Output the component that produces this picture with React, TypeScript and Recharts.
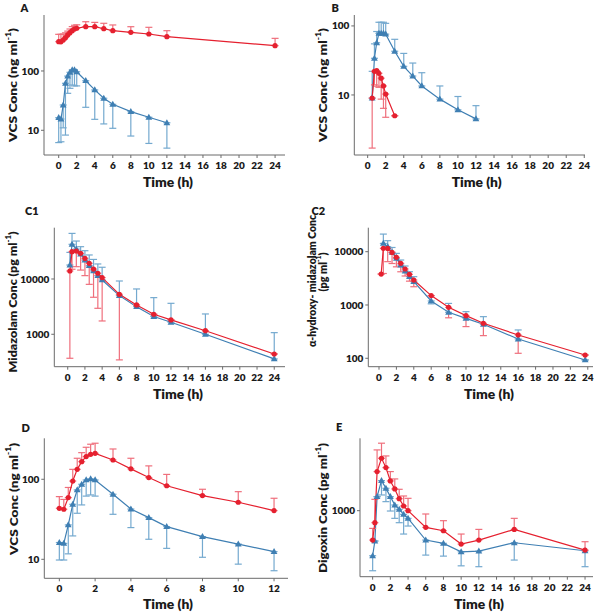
import React from "react";
import { LineChart, Line, XAxis, YAxis, ErrorBar } from "recharts";

const RED = "#e5202f";
const RED_BAR = "#ef6f7c";
const BLUE = "#3f7fb3";
const BLUE_BAR = "#74a9cf";
const AXIS = "#6b6b6b";
const FONT = "Lato, 'Open Sans', sans-serif";

// Panel A
const aRedT = [0, 0.25, 0.5, 0.75, 1, 1.25, 1.5, 1.75, 2, 3, 4, 5, 6, 8, 10, 12, 24];
const aRedV = [312, 310, 333, 365, 405, 443, 478, 510, 525, 558, 558, 516, 478, 449, 420, 379, 267];
const aRedHi = [415, 415, 420, 440, 470, 510, 560, 590, 600, 677, 660, 637, 597, 558, 545, 478, 355];
const aBlueT = [0, 0.25, 0.5, 0.75, 1, 1.25, 1.5, 1.75, 2, 3, 4, 5, 6, 8, 10, 12];
const aBlueV = [16.3, 15.5, 26.7, 62, 82, 95, 104, 104, 97, 68.5, 47.9, 34.7, 27.4, 20.6, 16.6, 13.4];
const aBlueLo = [6.2, 6.4, 11, 8.3, 42, 51, 58, 56, 56, 24.4, 15.3, 12.8, 10.8, 8.0, 6.0, 5.0];

// Panel B
const bBlueT = [0.5, 0.75, 1, 1.25, 1.5, 1.75, 2, 3, 4, 5, 6, 8, 10, 12];
const bBlueV = [9.0, 34, 57, 78, 78, 78, 76, 43, 26, 18.8, 13.5, 8.7, 6.1, 4.5];
const bBlueHi = [22, 55, 83, 113, 113, 113, 109, 64, 40, 29, 21, 13.5, 9.5, 7.0];
const bRedT = [0.5, 0.75, 1, 1.25, 1.5, 1.75, 2, 3];
const bRedV = [9.0, 22, 22.5, 20.6, 17.5, 13.5, 10.3, 5.0];
const bRedLo = [1.7, 14, 13.4, 12.9, 8.7, 6.4, 4.75, 5.0];

// Panel C1 (midazolam)
const c1T = [0.25, 0.5, 1, 1.5, 2, 2.5, 3, 3.5, 4, 6, 8, 10, 12, 16, 24];
const c1BlueV = [17900, 42400, 34800, 28300, 22000, 17400, 14000, 11500, 9600, 5000, 3160, 2090, 1650, 1000, 358];
const c1BlueHi = [30300, 66800, 48600, 38400, 32500, 27200, 22600, 18700, 16300, 9200, 6600, 4600, 3630, 2330, 1070];
const c1RedV = [13950, 31200, 32100, 29100, 23600, 19200, 15100, 12700, 10600, 5280, 3390, 2300, 1820, 1160, 440];
const c1RedLo = [368, 15000, 16700, 14500, 11500, 8000, 4670, 2950, 1740, 344, 3390, 2300, 1820, 1160, 440];

// Panel C2 (alpha-hydroxy-midazolam)
const c2BlueT = [0.5, 1, 1.5, 2, 2.5, 3, 3.5, 4, 6, 8, 10, 12, 16, 23.7];
const c2BlueV = [14300, 12400, 9720, 7500, 5620, 4340, 3400, 2740, 1190, 729, 562, 434, 230, 93];
const c2BlueHi = [21400, 16100, 12000, 9300, 6980, 5390, 4210, 3400, 1190, 1070, 750, 604, 340, 93];
const c2BlueLo = [14300, 12400, 9720, 7500, 5620, 4340, 3400, 2740, 1050, 729, 562, 434, 230, 93];
const c2RedT = [0.25, 0.5, 1, 1.5, 2, 2.5, 3, 3.5, 4, 6, 8, 10, 12, 16, 23.7];
const c2RedV = [3810, 11550, 11500, 9700, 7830, 6040, 4730, 3760, 2940, 1500, 905, 631, 453, 274, 115];
const c2RedLo = [3810, 3900, 6500, 6000, 5200, 4200, 3500, 2800, 2200, 1500, 575, 393, 266, 124, 115];

// Panel D
const dT = [0, 0.25, 0.5, 0.75, 1, 1.25, 1.5, 1.75, 2, 3, 4, 5, 6, 8, 10, 12];
const dRedV = [43.4, 42.2, 59, 95, 133, 166, 192, 205, 211, 174, 135, 105, 83, 62.5, 51.6, 40.6];
const dRedHi = [60.7, 56, 79, 133, 183, 215, 251, 274, 282, 239, 183, 147, 115, 75, 70, 57.9];
const dBlueV = [16.2, 15.8, 26.9, 48.7, 73.6, 86.6, 98, 101, 98, 65, 42.5, 33.2, 25.6, 19.2, 15.5, 12.5];
const dBlueLo = [9.8, 9.8, 11.7, 19.6, 37.6, 47.8, 61.6, 63.7, 61.6, 36.5, 24.9, 17.8, 13.7, 10.6, 8.7, 7.2];

// Panel E (digoxin)
const eT = [0, 0.25, 0.5, 1, 1.5, 2, 2.5, 3, 3.5, 4, 6, 8, 10, 12, 16, 24];
const eRedV = [430, 708, 3073, 4510, 3447, 2350, 1866, 1413, 1144, 1000, 619, 562, 383, 430, 584, 322];
const eRedHi = [601, 1385, 5730, 6950, 4820, 3073, 2490, 1848, 1525, 1426, 909, 750, 511, 584, 802, 410];
const eBlueV = [274, 418, 1496, 2371, 1902, 1496, 1177, 1039, 900, 802, 430, 391, 307, 313, 398, 316];
const eBlueLo = [178, 418, 1496, 1570, 1296, 990, 802, 708, 511, 643, 279, 271, 205, 200, 242, 200];

const hours24 = [0, 2, 4, 6, 8, 10, 12, 14, 16, 18, 20, 22, 24];
const hours12 = [0, 2, 4, 6, 8, 10, 12];

type Pt = { t: number; v: number; e: [number, number] };

function build(t: number[], v: number[], lo?: number[], hi?: number[]): Pt[] {
  return t.map((x, i) => ({
    t: x,
    v: v[i],
    e: [lo ? v[i] - lo[i] : 0, hi ? hi[i] - v[i] : 0],
  }));
}

const redDot = (p: any) => (
  <circle key={`r${p.index}`} cx={p.cx} cy={p.cy} r={2.6} fill={RED} />
);
const blueDot = (p: any) => (
  <path
    key={`b${p.index}`}
    d={`M${p.cx},${p.cy - 3.6}L${p.cx + 3.4},${p.cy + 2.4}L${p.cx - 3.4},${p.cy + 2.4}Z`}
    fill={BLUE}
  />
);

interface SeriesCfg {
  data: Pt[];
  color: string;
  bar: string;
  dot: (p: any) => React.ReactElement;
  name: string;
}

interface PanelCfg {
  left: number;
  top: number;
  width: number;
  height: number;
  x0: number;
  x1: number;
  y0: number;
  y1: number;
  xDomain: [number, number];
  xTicks: number[];
  yDomain: [number, number];
  yTicks: number[];
  series: SeriesCfg[];
}

const tickStyle = { fontSize: 10, fontWeight: 800, fill: "#1a1a1a", fontFamily: FONT };

function Panel(c: PanelCfg) {
  return (
    <div style={{ position: "absolute", left: c.left, top: c.top }}>
      <LineChart
        width={c.width}
        height={c.height}
        margin={{ top: c.y0 - c.top, right: c.left + c.width - c.x1, left: 0, bottom: 0 }}
      >
        <XAxis
          type="number"
          dataKey="t"
          domain={c.xDomain}
          ticks={c.xTicks}
          interval={0}
          allowDataOverflow
          height={c.top + c.height - c.y1}
          stroke={AXIS}
          tickSize={3}
          tickMargin={4}
          tick={tickStyle}
        />
        <YAxis
          type="number"
          scale="log"
          domain={c.yDomain}
          ticks={c.yTicks}
          interval={0}
          allowDataOverflow
          width={c.x0 - c.left}
          stroke={AXIS}
          tickSize={3}
          tickMargin={2}
          tick={tickStyle}
        />
        {c.series.map((s) => (
          <Line
            key={s.name}
            data={s.data}
            dataKey="v"
            type="linear"
            stroke={s.color}
            strokeWidth={1.2}
            dot={s.dot}
            activeDot={false}
            isAnimationActive={false}
          >
            <ErrorBar dataKey="e" direction="y" width={3.5} stroke={s.bar} strokeWidth={1.2} />
          </Line>
        ))}
      </LineChart>
    </div>
  );
}

const red = (data: Pt[]): SeriesCfg => ({ data, color: RED, bar: RED_BAR, dot: redDot, name: "red" });
const blue = (data: Pt[]): SeriesCfg => ({ data, color: BLUE, bar: BLUE_BAR, dot: blueDot, name: "blue" });

const panels: PanelCfg[] = [
  {
    left: 0, top: 0, width: 300, height: 195, x0: 44, x1: 285, y0: 15, y1: 155,
    xDomain: [-1.63, 25.1], xTicks: hours24, yDomain: [3.83, 879], yTicks: [10, 100],
    series: [blue(build(aBlueT, aBlueV, aBlueLo)), red(build(aRedT, aRedV, undefined, aRedHi))],
  },
  {
    left: 300, top: 0, width: 301, height: 195, x0: 354.3, x1: 585, y0: 15, y1: 155,
    xDomain: [-1.48, 24.08], xTicks: hours24, yDomain: [1.35, 144], yTicks: [10, 100],
    series: [blue(build(bBlueT, bBlueV, undefined, bBlueHi)), red(build(bRedT, bRedV, bRedLo))],
  },
  {
    left: 0, top: 195, width: 300, height: 205, x0: 54.3, x1: 285, y0: 227.7, y1: 366.7,
    xDomain: [-1.56, 25.25], xTicks: hours24, yDomain: [259, 84700], yTicks: [1000, 10000],
    series: [blue(build(c1T, c1BlueV, undefined, c1BlueHi)), red(build(c1T, c1RedV, c1RedLo))],
  },
  {
    left: 300, top: 195, width: 301, height: 205, x0: 368.3, x1: 593, y0: 227.7, y1: 366.7,
    xDomain: [-1.23, 24.6], xTicks: hours24, yDomain: [69.5, 28200], yTicks: [100, 1000, 10000],
    series: [blue(build(c2BlueT, c2BlueV, c2BlueLo, c2BlueHi)), red(build(c2RedT, c2RedV, c2RedLo))],
  },
  {
    left: 0, top: 400, width: 300, height: 213, x0: 44.3, x1: 288, y0: 438.3, y1: 578.3,
    xDomain: [-0.84, 12.78], xTicks: hours12, yDomain: [5.79, 325], yTicks: [10, 100],
    series: [blue(build(dT, dBlueV, dBlueLo)), red(build(dT, dRedV, undefined, dRedHi))],
  },
  {
    left: 300, top: 400, width: 301, height: 213, x0: 360, x1: 593, y0: 438.3, y1: 576.7,
    xDomain: [-1.43, 24.9], xTicks: hours24, yDomain: [150, 8000], yTicks: [1000],
    series: [blue(build(eT, eBlueV, eBlueLo)), red(build(eT, eRedV, undefined, eRedHi))],
  },
];

const titleProps = {
  textAnchor: "middle" as const,
  dominantBaseline: "central" as const,
  fontSize: 12,
  fontWeight: 800,
  fontFamily: FONT,
  fill: "#1a1a1a",
  lengthAdjust: "spacingAndGlyphs" as const,
};

function YTitle({ x, y, len, main, unit }: { x: number; y: number; len: number; main: string; unit: string }) {
  return (
    <text transform={`translate(${x},${y}) rotate(-90)`} {...titleProps} textLength={len}>
      {main}({unit} ml<tspan baselineShift="super" fontSize={7.5}>-1</tspan>)
    </text>
  );
}

function XTitle({ x, y }: { x: number; y: number }) {
  return (
    <text x={x} y={y} {...titleProps} fontSize={12.5} textLength={50}>
      Time (h)
    </text>
  );
}

function Letter({ x, y, s }: { x: number; y: number; s: string }) {
  return (
    <text x={x} y={y} dominantBaseline="central" fontSize={11} fontWeight={800} fontFamily={FONT} fill="#1a1a1a">
      {s}
    </text>
  );
}

export default function App() {
  return (
    <div style={{ position: "absolute", left: 0, top: 0, width: 601, height: 613, background: "#fff" }}>
      {panels.map((p, i) => (
        <Panel key={i} {...p} />
      ))}
      <svg width={601} height={613} style={{ position: "absolute", left: 0, top: 0, pointerEvents: "none" }}>
        <Letter x={20.5} y={7} s="A" />
        <Letter x={331.5} y={7} s="B" />
        <Letter x={25} y={210} s="C1" />
        <Letter x={311.5} y={210} s="C2" />
        <Letter x={21.5} y={427} s="D" />
        <Letter x={336} y={426} s="E" />

        <YTitle x={12.7} y={85} len={114} main="VCS Conc " unit="ng" />
        <YTitle x={322.7} y={85} len={114} main="VCS Conc " unit="ng" />
        <YTitle x={12.7} y={302} len={141} main="Midazolam Conc " unit="pg" />
        <text transform="translate(311.7,281) rotate(-90)" {...titleProps} textLength={132}>
          α-hydroxy- midazolam Conc
        </text>
        <text transform="translate(322.7,272) rotate(-90)" {...titleProps} textLength={39}>
          (pg ml<tspan baselineShift="super" fontSize={7.5}>-1</tspan>)
        </text>
        <YTitle x={13.3} y={499} len={112} main="VCS Conc " unit="ng" />
        <YTitle x={322.7} y={508} len={130} main="Digoxin Conc " unit="pg" />

        <XTitle x={168} y={182.7} />
        <XTitle x={476.7} y={182.7} />
        <XTitle x={178} y={394} />
        <XTitle x={489} y={394} />
        <XTitle x={168} y={604} />
        <XTitle x={479} y={604} />
      </svg>
    </div>
  );
}
